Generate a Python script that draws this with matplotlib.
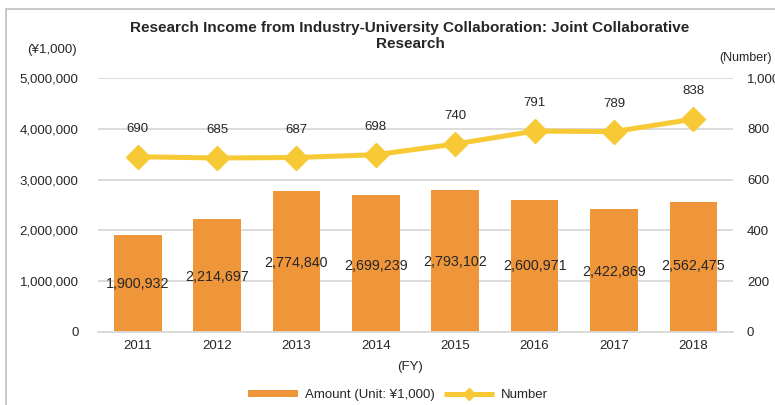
import numpy as np
import matplotlib
matplotlib.use("Agg")
import matplotlib.pyplot as plt
from matplotlib.lines import Line2D
from matplotlib.patches import Patch, Rectangle

years = ["2011", "2012", "2013", "2014", "2015", "2016", "2017", "2018"]
amount = [1900932, 2214697, 2774840, 2699239, 2793102, 2600971, 2422869, 2562475]
number = [690, 685, 687, 698, 740, 791, 789, 838]
# where each amount label sits (left-axis units), as placed in the original
amount_label_y = [945000, 1080000, 1360000, 1300000, 1380000, 1300000, 1180000, 1290000]

bar_color = "#F0963A"
line_color = "#F6C935"
grid_color = "#D9D9D9"
text_color = "#262626"

plt.rcParams['font.family'] = ['Liberation Sans', 'DejaVu Sans']

fig = plt.figure(figsize=(7.75, 4.05), dpi=100)
ax = fig.add_axes([98 / 775, 1 - 332 / 405, 635 / 775, 254 / 405])
ax2 = ax.twinx()

x = np.arange(len(years))
ax.bar(x, amount, width=0.6, color=bar_color, zorder=2)
for xi, v, ly in zip(x, amount, amount_label_y):
    ax.text(xi, ly, f"{v:,}", ha='center', va='center', fontsize=10.3,
            color=text_color, zorder=5)

ax2.plot(x, number, '-', color=line_color, linewidth=3.6, marker='D',
         markersize=12, zorder=3)
for xi, v in zip(x, number):
    ax2.annotate(f"{v}", (xi, v), xytext=(0, 20), textcoords='offset points',
                 ha='center', va='center', fontsize=9.5, color=text_color)

ax.set_xlim(-0.5, len(years) - 0.5)
ax.set_ylim(0, 5000000)
ax2.set_ylim(0, 1000)
ax.set_yticks(np.arange(0, 5000001, 1000000))
ax.set_yticklabels([f"{v:,}" for v in range(0, 5000001, 1000000)])
ax2.set_yticks(np.arange(0, 1001, 200))
ax2.set_yticklabels([f"{v:,}" for v in range(0, 1001, 200)])
ax.set_xticks(x)
ax.set_xticklabels(years)

ax.grid(axis='y', color=grid_color, linewidth=1.3, zorder=0)
ax.set_axisbelow(True)
for a in (ax, ax2):
    for s in a.spines.values():
        s.set_visible(False)
    a.tick_params(length=0, labelsize=9.5, colors=text_color)
ax.tick_params(axis='y', pad=14)
ax.tick_params(axis='x', pad=6)
ax2.tick_params(axis='y', pad=10)
ax.spines['bottom'].set_visible(True)
ax.spines['bottom'].set_color(grid_color)
ax.spines['bottom'].set_linewidth(1.3)
ax2.set_zorder(ax.get_zorder() + 1)
ax2.patch.set_visible(False)

fig.text(410 / 775, 1 - 36 / 405,
         "Research Income from Industry-University Collaboration: Joint Collaborative\nResearch",
         ha='center', va='center', fontsize=11, fontweight='bold', color=text_color,
         linespacing=1.2)
fig.text(52 / 775, 1 - 50 / 405, "(¥1,000)", ha='center', va='center',
         fontsize=9.5, color=text_color)
fig.text(746 / 775, 1 - 58 / 405, "(Number)", ha='center', va='center',
         fontsize=9, color=text_color)
fig.text(410 / 775, 1 - 367 / 405, "(FY)", ha='center', va='center',
         fontsize=9.5, color=text_color)

handles = [Patch(facecolor=bar_color, edgecolor='none'),
           Line2D([0], [0], color=line_color, linewidth=3.6, marker='D',
                  markersize=6, solid_capstyle='butt')]
fig.legend(handles, ["Amount (Unit: ¥1,000)", "Number"], loc='center',
           bbox_to_anchor=(398 / 775, 1 - 395 / 405), ncol=2, frameon=False,
           fontsize=9.5, handlelength=3.8, handleheight=0.5, columnspacing=0.7,
           handletextpad=0.5, labelcolor=text_color)

fig.add_artist(Rectangle((6 / 775, -0.1), 1.2, 1 - 9 / 405 + 0.1,
                         transform=fig.transFigure, fill=False,
                         edgecolor="#BFBFBF", linewidth=1.2))

fig.savefig("out.png", dpi=100)
